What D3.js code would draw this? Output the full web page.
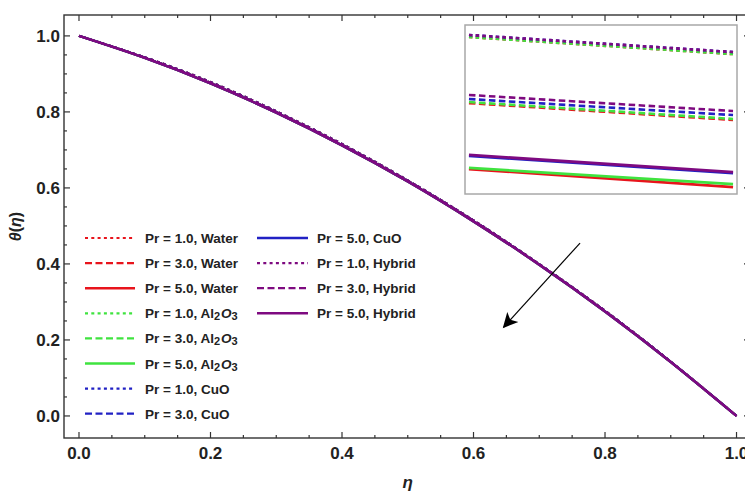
<!DOCTYPE html>
<html><head><meta charset="utf-8">
<script src="https://cdn.jsdelivr.net/npm/d3@7/dist/d3.min.js"></script>
<style>
html,body{margin:0;padding:0;background:#fff;}
svg{display:block;font-family:"Liberation Sans",Arial,sans-serif;}
</style></head>
<body><svg id="c" width="745" height="492"></svg>
<script>
// ---------- DATA ----------
const eta = [0.0, 0.1, 0.2, 0.3, 0.4, 0.5, 0.6, 0.7, 0.8, 0.9, 1.0];
const thetaPr1 = [1.000, 0.944, 0.879, 0.802, 0.716, 0.620, 0.515, 0.400, 0.277, 0.143, 0.000];
const thetaPr3 = [1.000, 0.943, 0.877, 0.800, 0.714, 0.619, 0.514, 0.399, 0.276, 0.142, 0.000];
const thetaPr5 = [1.000, 0.942, 0.875, 0.798, 0.712, 0.617, 0.512, 0.398, 0.275, 0.142, 0.000];
const prValues = ["1.0", "3.0", "5.0"];
const fluids = ["Water", "Al2O3", "CuO", "Hybrid"];
// inset (magnified window), relative units 0-100: [start, end] for Pr = 1, 3, 5
const insetX = [0, 100];
const insetWater  = [[92.9, 82.8], [53.8, 43.8], [14.8, 4.1]];
const insetAl2O3  = [[92.9, 82.8], [54.4, 44.4], [15.4, 5.9]];
const insetCuO    = [[94.1, 84.0], [56.2, 46.7], [22.6, 12.4]];
const insetHybrid = [[94.1, 84.0], [58.6, 49.1], [23.1, 13.0]];
const xTicks = [0.0, 0.2, 0.4, 0.6, 0.8, 1.0];
const yTicks = [0.0, 0.2, 0.4, 0.6, 0.8, 1.0];
const arrowFrom = [0.762, 0.455], arrowTo = [0.646, 0.234];

// ---------- STYLE ----------
const colors = {Water: "#e8141c", Al2O3: "#3fe33f", CuO: "#2121c4", Hybrid: "#7e0a80"};
const dashes = ["3,3.3", "7,3.5", null];
const insetDashes = ["3.5,3.2", "6.5,3.5", null];
const mainTheta = [thetaPr1, thetaPr3, thetaPr5];
const insetData = {Water: insetWater, Al2O3: insetAl2O3, CuO: insetCuO, Hybrid: insetHybrid};

const svg = d3.select("#c");
const x = d3.scaleLinear().domain([-0.0228, 1.0205]).range([64, 750]);
const y = d3.scaleLinear().domain([-0.058, 1.055]).range([438, 15]);
const axisColor = "#333";

const series = [];
fluids.forEach(f => prValues.forEach((p, i) => series.push({fluid: f, pi: i, pr: p})));

// main curves
const line = d3.line().x((d, i) => x(eta[i])).y(d => y(d)).curve(d3.curveNatural);
const gLines = svg.append("g");
series.forEach(s => {
  gLines.append("path").attr("d", line(mainTheta[s.pi]))
    .attr("fill", "none").attr("stroke", colors[s.fluid])
    .attr("stroke-width", s.pi === 2 ? 2.4 : 2)
    .attr("stroke-dasharray", dashes[s.pi]);
});

// frame + ticks
const frame = svg.append("g");
frame.append("rect").attr("x", x.range()[0]).attr("y", y.range()[1])
  .attr("width", x.range()[1] - x.range()[0]).attr("height", y.range()[0] - y.range()[1])
  .attr("fill", "none").attr("stroke", axisColor).attr("stroke-width", 1.4);
const minorX = d3.range(0, 1.0001, 0.05).map(v => +v.toFixed(2));
const minorY = d3.range(0, 1.0001, 0.05).map(v => +v.toFixed(2));
minorX.forEach(v => {
  const major = xTicks.some(t => Math.abs(t - v) < 1e-6);
  const L = major ? 6 : 3;
  frame.append("line").attr("x1", x(v)).attr("x2", x(v)).attr("y1", y.range()[0]).attr("y2", y.range()[0] - L)
    .attr("stroke", axisColor).attr("stroke-width", 1.2);
  frame.append("line").attr("x1", x(v)).attr("x2", x(v)).attr("y1", y.range()[1]).attr("y2", y.range()[1] + L)
    .attr("stroke", axisColor).attr("stroke-width", 1.2);
});
minorY.forEach(v => {
  const major = yTicks.some(t => Math.abs(t - v) < 1e-6);
  const L = major ? 6 : 3;
  frame.append("line").attr("y1", y(v)).attr("y2", y(v)).attr("x1", x.range()[0]).attr("x2", x.range()[0] + L)
    .attr("stroke", axisColor).attr("stroke-width", 1.2);
  frame.append("line").attr("y1", y(v)).attr("y2", y(v)).attr("x1", x.range()[1]).attr("x2", x.range()[1] - L)
    .attr("stroke", axisColor).attr("stroke-width", 1.2);
});
// tick labels
xTicks.forEach(v => {
  svg.append("text").attr("x", x(v)).attr("y", 459).attr("text-anchor", "middle")
    .attr("font-size", 17).attr("font-weight", "bold").attr("fill", "#222").text(v.toFixed(1));
});
yTicks.forEach(v => {
  svg.append("text").attr("x", 60).attr("y", y(v) + 6).attr("text-anchor", "end")
    .attr("font-size", 17).attr("font-weight", "bold").attr("fill", "#222").text(v.toFixed(1));
});
// axis titles
svg.append("text").attr("x", (x(0) + x(1)) / 2).attr("y", 488).attr("text-anchor", "middle")
  .attr("font-size", 17).attr("font-weight", "bold").attr("font-style", "italic").attr("fill", "#222").text("η");
const yt = svg.append("text").attr("transform", `translate(21,${(y.range()[0] + y.range()[1]) / 2}) rotate(-90)`)
  .attr("text-anchor", "middle").attr("font-size", 16).attr("font-weight", "bold").attr("fill", "#222");
yt.append("tspan").attr("font-style", "italic").text("θ");
yt.append("tspan").text("(");
yt.append("tspan").attr("font-style", "italic").text("η");
yt.append("tspan").text(")");

// legend
const leg = svg.append("g");
series.forEach((s, k) => {
  const col = k < 8 ? 0 : 1;
  const row = k < 8 ? k : k - 8;
  const x0 = col === 0 ? 85 : 257, x1 = col === 0 ? 135 : 308, tx = col === 0 ? 145 : 317;
  const yy = 238 + row * 25.1;
  leg.append("line").attr("x1", x0).attr("x2", x1).attr("y1", yy).attr("y2", yy)
    .attr("stroke", colors[s.fluid]).attr("stroke-width", s.pi === 2 ? 2.6 : 2.2)
    .attr("stroke-dasharray", dashes[s.pi]);
  const t = leg.append("text").attr("x", tx).attr("y", yy + 5).attr("font-size", 13.5)
    .attr("font-weight", "bold").attr("fill", "#222");
  if (s.fluid === "Al2O3") {
    t.append("tspan").text(`Pr = ${s.pr}, Al`);
    t.append("tspan").attr("font-size", 11).attr("dy", 2).text("2");
    t.append("tspan").attr("font-style", "italic").attr("dy", -2).attr("dx", 1).text("O");
    t.append("tspan").attr("font-size", 11).attr("dy", 2).text("3");
  } else {
    t.text(`Pr = ${s.pr}, ${s.fluid}`);
  }
});

// arrow
const defs = svg.append("defs");
defs.append("marker").attr("id", "ah").attr("viewBox", "0 0 10 10").attr("refX", 9).attr("refY", 5)
  .attr("markerWidth", 21).attr("markerHeight", 15).attr("markerUnits", "userSpaceOnUse").attr("orient", "auto")
  .append("path").attr("d", "M0,0 L10,5 L0,10 L2.5,5 Z").attr("fill", "#000");
svg.append("line").attr("x1", x(arrowFrom[0])).attr("y1", y(arrowFrom[1]))
  .attr("x2", x(arrowTo[0])).attr("y2", y(arrowTo[1]))
  .attr("stroke", "#000").attr("stroke-width", 1.2).attr("marker-end", "url(#ah)");

// inset
const ib = {x: 465, y: 25, w: 272, h: 169};
const ig = svg.append("g");
ig.append("rect").attr("x", ib.x).attr("y", ib.y).attr("width", ib.w).attr("height", ib.h)
  .attr("fill", "#fff").attr("stroke", "#a8a8a8").attr("stroke-width", 1.5);
const ix = d3.scaleLinear().domain([-1.5, 101.5]).range([ib.x, ib.x + ib.w]);
const iy = d3.scaleLinear().domain([0, 100]).range([ib.y + ib.h, ib.y]);
[0, 1, 2].forEach(pi => {
  fluids.forEach(f => {
    const v = insetData[f][pi];
    ig.append("line").attr("x1", ix(insetX[0])).attr("x2", ix(insetX[1]))
      .attr("y1", iy(v[0])).attr("y2", iy(v[1]))
      .attr("stroke", colors[f]).attr("stroke-width", pi === 2 ? 2.8 : 2.6)
      .attr("stroke-dasharray", insetDashes[pi]);
  });
});
</script></body></html>
